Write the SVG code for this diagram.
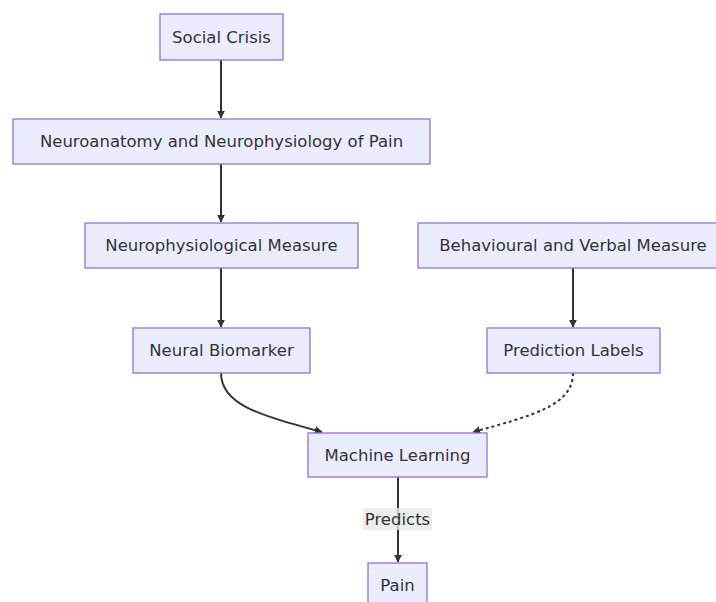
<svg xmlns="http://www.w3.org/2000/svg" width="716" height="602" viewBox="0 0 716 602">
<style>
.n rect{fill:#ECECFF;stroke:#9370DB;stroke-width:1.3}
text{font-family:"DejaVu Sans","Liberation Sans",Arial,sans-serif;font-size:16.5px;fill:#333;text-anchor:middle;dominant-baseline:central}
.e{fill:none;stroke:#333;stroke-width:2}
.d{stroke-dasharray:3 3}
</style>
<defs>
<marker id="ah" viewBox="0 0 10 10" refX="9" refY="5" markerWidth="8" markerHeight="8" orient="auto" markerUnits="userSpaceOnUse"><path d="M0,0L10,5L0,10z" fill="#333"/></marker>
</defs>
<rect width="716" height="602" fill="#fff"/>
<g id="edges">
<path class="e" d="M221,60V118" marker-end="url(#ah)"/>
<path class="e" d="M221,164V222" marker-end="url(#ah)"/>
<path class="e" d="M221,268V327" marker-end="url(#ah)"/>
<path class="e" d="M573,268V327" marker-end="url(#ah)"/>
<path class="e" d="M221,373C221,405 260,415 322,432" marker-end="url(#ah)"/>
<path class="e d" d="M573,373C573,405 535,415 473,432" marker-end="url(#ah)"/>
<path class="e" d="M398,477V562" marker-end="url(#ah)"/>
<rect x="363" y="508" width="69" height="22" fill="#E8E8E8" opacity="0.8"/>
<text x="397.5" y="519">Predicts</text>
</g>
<g id="social" class="n"><rect x="160" y="14" width="123" height="46"/><text x="221.5" y="37">Social Crisis</text></g>
<g id="neuroanatomy" class="n"><rect x="13" y="119" width="417" height="45"/><text x="221.5" y="141.5">Neuroanatomy and Neurophysiology of Pain</text></g>
<g id="neurophys" class="n"><rect x="85" y="223" width="273" height="45"/><text x="221.5" y="245.5">Neurophysiological Measure</text></g>
<g id="behavioural" class="n"><rect x="418" y="223" width="310" height="45"/><text x="573" y="245.5">Behavioural and Verbal Measure</text></g>
<g id="biomarker" class="n"><rect x="133" y="328" width="177" height="45"/><text x="221.5" y="350.5">Neural Biomarker</text></g>
<g id="labels" class="n"><rect x="487" y="328" width="173" height="45"/><text x="573.5" y="350.5">Prediction Labels</text></g>
<g id="ml" class="n"><rect x="308" y="433" width="179" height="44"/><text x="397.5" y="455">Machine Learning</text></g>
<g id="pain" class="n"><rect x="368" y="563" width="59" height="45"/><text x="397.5" y="585.5">Pain</text></g>
</svg>
